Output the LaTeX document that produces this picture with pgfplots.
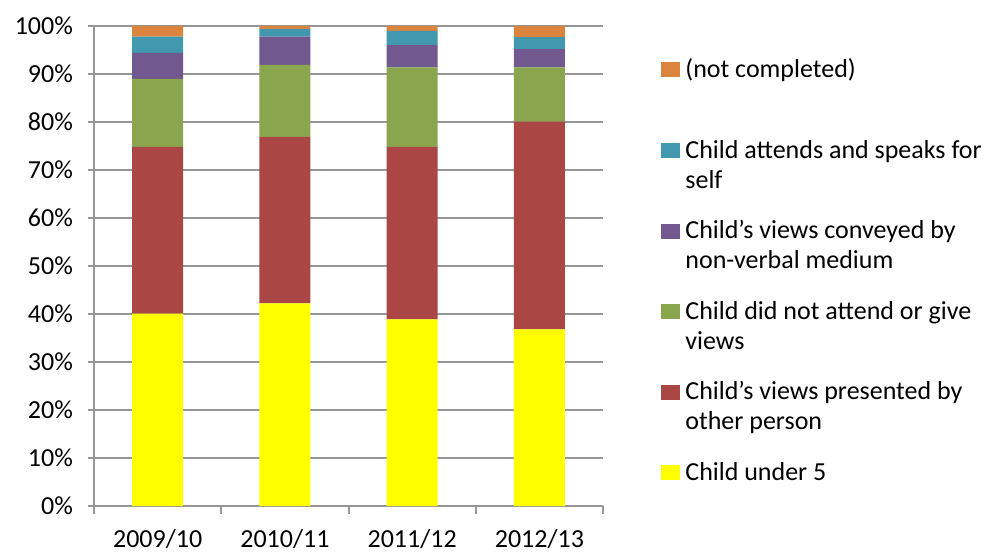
\documentclass[border=0pt]{standalone}
\usepackage{fontspec}
\setmainfont{Carlito}
\usepackage{pgfplots}
\pgfplotsset{compat=1.18}

\definecolor{cyel}{RGB}{255,255,0}
\definecolor{cred}{RGB}{170,70,67}
\definecolor{cgrn}{RGB}{137,165,78}
\definecolor{cpur}{RGB}{113,88,143}
\definecolor{cteal}{RGB}{65,152,175}
\definecolor{corg}{RGB}{219,132,61}
\definecolor{cgrid}{RGB}{150,150,150}

\newcommand{\lentry}[2]{\begin{tabular}[t]{@{}l@{}}#1\\#2\end{tabular}}

\begin{document}
\begin{tikzpicture}
\begin{axis}[
    name=ax,
    scale only axis,
    width=254.5pt, height=240pt,
    ybar stacked, bar width=0.4,
    xmin=-0.5, xmax=3.5, ymin=0, ymax=100,
    xtick={0,1,2,3},
    xticklabels={2009/10,2010/11,2011/12,2012/13},
    minor xtick={-0.5,0.5,1.5,2.5,3.5},
    major x tick style={draw=none},
    minor tick length=4pt,
    major tick length=3pt,
    ytick={0,10,...,100},
    yticklabel={\pgfmathprintnumber{\tick}\%},
    /pgf/number format/assume math mode=true,
    ymajorgrids,
    grid style={cgrid, line width=1pt},
    axis x line*=bottom, axis y line*=left,
    axis line style={cgrid, line width=1pt, -},
    tick style={cgrid, line width=1pt},
    tick align=outside,
    ticklabel style={font=\fontsize{13}{15}\selectfont},
    xticklabel style={yshift=-5pt},
    yticklabel style={xshift=-4pt},
    reverse legend,
    legend cell align=left,
    legend image code/.code={\fill[#1] (0pt,0pt) rectangle (9.5pt,7.5pt);},
    legend style={at={(1,1)}, anchor=north west, xshift=29pt, yshift=-15pt,
        draw=none, fill=none, inner sep=0pt,
        font=\fontsize{13}{15}\selectfont,
        nodes={inner sep=0pt},
        cells={anchor=base west},
        row sep=28.3pt, column sep=2.5pt},
]

\addplot[fill=cyel, draw=none] coordinates {(0,40.1) (1,42.2) (2,38.9) (3,36.8)};
\addlegendentry{\lentry{Child under 5}{}}

\addplot[fill=cred, draw=none] coordinates {(0,34.7) (1,34.7) (2,35.9) (3,43.3)};
\addlegendentry{\lentry{Child's views presented by}{other person}}

\addplot[fill=cgrn, draw=none] coordinates {(0,14.2) (1,15.0) (2,16.6) (3,11.3)};
\addlegendentry{\lentry{Child did not attend or give}{views}}

\addplot[fill=cpur, draw=none] coordinates {(0,5.4) (1,5.9) (2,4.6) (3,3.8)};
\addlegendentry{\lentry{Child's views conveyed by}{non-verbal medium}}

\addplot[fill=cteal, draw=none] coordinates {(0,3.4) (1,1.6) (2,3.0) (3,2.5)};
\addlegendentry{\lentry{Child attends and speaks for}{self}}

\addplot[fill=corg, draw=none] coordinates {(0,2.2) (1,0.6) (2,1.0) (3,2.3)};
\addlegendentry{\lentry{(not completed)}{}}

\end{axis}
\pgfresetboundingbox
\path (ax.south west) ++(-47pt,-23pt) rectangle ++(495pt,276pt);
\end{tikzpicture}
\end{document}
